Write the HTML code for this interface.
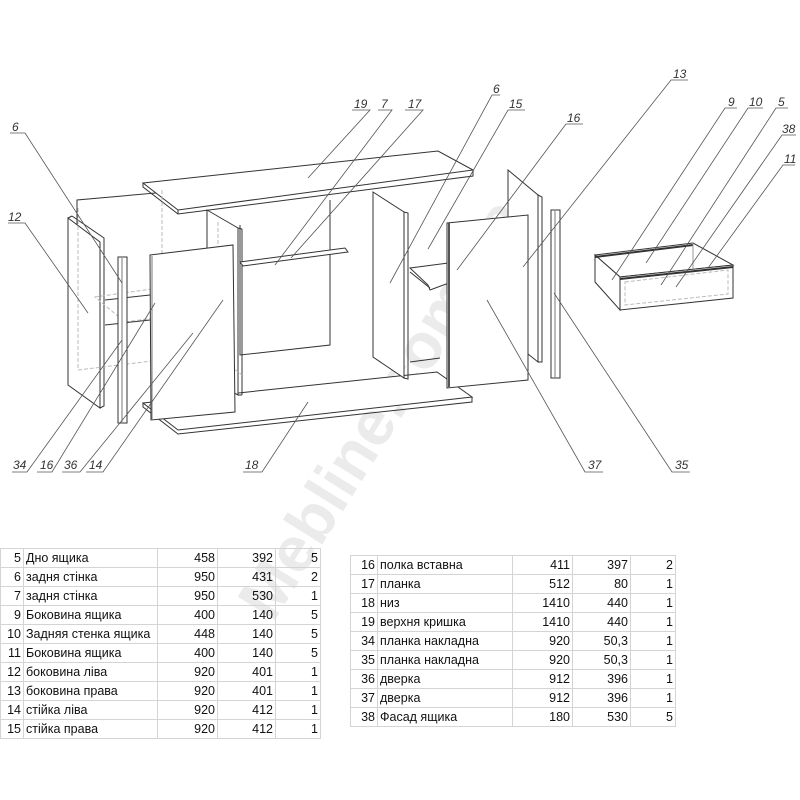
<!DOCTYPE html>
<html><head><meta charset="utf-8"><style>
html,body{margin:0;padding:0;background:#fff;}
body{width:800px;height:800px;position:relative;overflow:hidden;font-family:"Liberation Sans","DejaVu Sans",sans-serif;}
svg{position:absolute;left:0;top:0;}
table{position:absolute;border-collapse:collapse;table-layout:fixed;font-family:"Liberation Sans","DejaVu Sans",sans-serif;font-size:12.5px;color:#111;}
td{border:1px solid #d4d4d4;height:18px;padding:0 2px;white-space:nowrap;line-height:18px;overflow:hidden;}
td.n{text-align:right;}
</style></head><body>
<svg width="800" height="800" viewBox="0 0 800 800" font-family="Liberation Sans, sans-serif">
<text x="400" y="420" transform="rotate(-58 400 420)" text-anchor="middle" font-size="64" font-weight="bold" fill="#ebebeb">Mebline.com.ua</text>
<g fill="none" stroke="#333" stroke-width="1">
<polyline points="77,250 77,200 167,192 167,200"/>
<polygon points="143,183 438,151 473,170 178,210" fill="#fff"/>
<polyline points="143,183 143,187 178,214 473,176 473,170"/>
<line x1="178" y1="210" x2="178" y2="214"/>
<polyline points="240,225 240,355 330,345 330,200"/>
<polygon points="143,403 437,372 472,397 178,430" fill="#fff"/>
<polyline points="143,403 143,407 178,434 472,402 472,397"/>
<polygon points="207,210 238,228 238,395 207,378" fill="#fff"/>
<line x1="238" y1="228" x2="242" y2="229"/><line x1="242" y1="229" x2="242" y2="395"/><line x1="238" y1="395" x2="242" y2="395"/>
<polygon points="240,262 345,248 348,252 243,266" fill="#fff"/>
<polygon points="68,218 100,242 100,408 68,385" fill="#fff"/>
<polyline points="72,216 104,238 104,406 100,408"/>
<line x1="68" y1="218" x2="72" y2="216"/>
<g stroke="#bbb" stroke-dasharray="4,2">
<polygon points="95,297 180,285 212,310 125,322"/>
<polyline points="78,208 78,370 160,360"/>
<polyline points="218,222 218,357 242,375"/>
<polyline points="384,205 384,340 405,355"/>
<polyline points="420,270 512,262 520,286"/>
<polyline points="515,180 515,345"/>
<polyline points="162,190 162,265"/>
</g>
<line x1="105" y1="300" x2="150" y2="295"/>
<line x1="105" y1="325" x2="150" y2="320"/>
<rect x="118" y="257" width="9" height="166" fill="#fff"/>
<line x1="122" y1="258" x2="122" y2="422" stroke="#777"/>
<polygon points="150,255 233,245 235,412 151,420" fill="#fff"/>
<line x1="152" y1="256" x2="152" y2="419" stroke="#777"/>
<polyline points="375,340 375,200"/>
<line x1="410" y1="362" x2="440" y2="358"/>
<polygon points="373,192 404,212 404,378 373,357" fill="#fff"/>
<polyline points="404,212 408,213 408,379 404,378"/>
<polygon points="410,268 510,255 514,259 430,290 428,285" fill="#fff"/>
<line x1="410" y1="272" x2="430" y2="288"/>
<polygon points="508,170 538,195 538,362 508,338" fill="#fff"/>
<polyline points="538,195 542,197 542,362 538,362"/>
<polygon points="447,223 528,215 528,380 447,388" fill="#fff"/>
<line x1="449" y1="223" x2="449" y2="387" stroke="#555" stroke-width="2"/>
<rect x="551" y="210" width="9" height="168" fill="#fff"/>
<line x1="555" y1="211" x2="555" y2="377" stroke="#777"/>
<polygon points="595,255 693,243 733,265 620,277" fill="#fff"/>
<polygon points="595,255 620,277 620,310 595,282" fill="#fff"/>
<polygon points="620,277 733,265 733,298 620,310" fill="#fff"/>
<line x1="595" y1="257" x2="693" y2="245" stroke-width="2"/>
<line x1="620" y1="279" x2="733" y2="267" stroke-width="2"/>
<polygon points="625,282 728,270 728,294 625,305" stroke="#bbb" stroke-dasharray="4,2"/>
<line x1="693" y1="243" x2="693" y2="268" stroke="#999"/>
</g>
<g fill="none" stroke="#555" stroke-width="0.8">
<polyline points="10,133 25,133 122,283"/>
<polyline points="8,223 25,223 88,313"/>
<polyline points="12,472 27,472 122,340"/>
<polyline points="37,472 52,472 155,303"/>
<polyline points="62,472 80,472 193,333"/>
<polyline points="86,472 103,472 223,300"/>
<polyline points="243,472 262,472 308,402"/>
<polyline points="352,110 370,110 308,178"/>
<polyline points="378,110 392,110 275,265"/>
<polyline points="405,110 423,110 291,258"/>
<polyline points="500,95 492,95 390,283"/>
<polyline points="525,110 508,110 428,249"/>
<polyline points="583,124 566,124 457,270"/>
<polyline points="688,80 671,80 523,267"/>
<polyline points="737,108 725,108 612,280"/>
<polyline points="763,108 748,108 646,263"/>
<polyline points="788,108 776,108 661,285"/>
<polyline points="796,135 782,135 676,287"/>
<polyline points="795,165 783,165 708,268"/>
<polyline points="603,472 585,472 487,300"/>
<polyline points="690,472 672,472 554,293"/>
</g>
<g font-size="12" font-style="italic" fill="#333">
<text x="12" y="131">6</text>
<text x="8" y="221">12</text>
<text x="13" y="469">34</text>
<text x="40" y="469">16</text>
<text x="64" y="469">36</text>
<text x="89" y="469">14</text>
<text x="245" y="469">18</text>
<text x="354" y="108">19</text>
<text x="381" y="108">7</text>
<text x="408" y="108">17</text>
<text x="493" y="93">6</text>
<text x="509" y="108">15</text>
<text x="567" y="122">16</text>
<text x="673" y="78">13</text>
<text x="728" y="106">9</text>
<text x="749" y="106">10</text>
<text x="778" y="106">5</text>
<text x="782" y="133">38</text>
<text x="784" y="163">11</text>
<text x="588" y="469">37</text>
<text x="675" y="469">35</text>
</g>
</svg>
<table style="left:0;top:548px;width:320px;">
<colgroup><col style="width:23px"><col style="width:134px"><col style="width:60px"><col style="width:58px"><col style="width:45px"></colgroup>
<tr><td class="n">5</td><td>Дно ящика</td><td class="n">458</td><td class="n">392</td><td class="n">5</td></tr>
<tr><td class="n">6</td><td>задня стінка</td><td class="n">950</td><td class="n">431</td><td class="n">2</td></tr>
<tr><td class="n">7</td><td>задня стінка</td><td class="n">950</td><td class="n">530</td><td class="n">1</td></tr>
<tr><td class="n">9</td><td>Боковина ящика</td><td class="n">400</td><td class="n">140</td><td class="n">5</td></tr>
<tr><td class="n">10</td><td>Задняя стенка ящика</td><td class="n">448</td><td class="n">140</td><td class="n">5</td></tr>
<tr><td class="n">11</td><td>Боковина ящика</td><td class="n">400</td><td class="n">140</td><td class="n">5</td></tr>
<tr><td class="n">12</td><td>боковина ліва</td><td class="n">920</td><td class="n">401</td><td class="n">1</td></tr>
<tr><td class="n">13</td><td>боковина права</td><td class="n">920</td><td class="n">401</td><td class="n">1</td></tr>
<tr><td class="n">14</td><td>стійка ліва</td><td class="n">920</td><td class="n">412</td><td class="n">1</td></tr>
<tr><td class="n">15</td><td>стійка права</td><td class="n">920</td><td class="n">412</td><td class="n">1</td></tr>
</table>
<table style="left:350px;top:555px;width:325px;">
<colgroup><col style="width:27px"><col style="width:135px"><col style="width:60px"><col style="width:58px"><col style="width:45px"></colgroup>
<tr><td class="n">16</td><td>полка вставна</td><td class="n">411</td><td class="n">397</td><td class="n">2</td></tr>
<tr><td class="n">17</td><td>планка</td><td class="n">512</td><td class="n">80</td><td class="n">1</td></tr>
<tr><td class="n">18</td><td>низ</td><td class="n">1410</td><td class="n">440</td><td class="n">1</td></tr>
<tr><td class="n">19</td><td>верхня кришка</td><td class="n">1410</td><td class="n">440</td><td class="n">1</td></tr>
<tr><td class="n">34</td><td>планка накладна</td><td class="n">920</td><td class="n">50,3</td><td class="n">1</td></tr>
<tr><td class="n">35</td><td>планка накладна</td><td class="n">920</td><td class="n">50,3</td><td class="n">1</td></tr>
<tr><td class="n">36</td><td>дверка</td><td class="n">912</td><td class="n">396</td><td class="n">1</td></tr>
<tr><td class="n">37</td><td>дверка</td><td class="n">912</td><td class="n">396</td><td class="n">1</td></tr>
<tr><td class="n">38</td><td>Фасад ящика</td><td class="n">180</td><td class="n">530</td><td class="n">5</td></tr>
</table>
</body></html>
